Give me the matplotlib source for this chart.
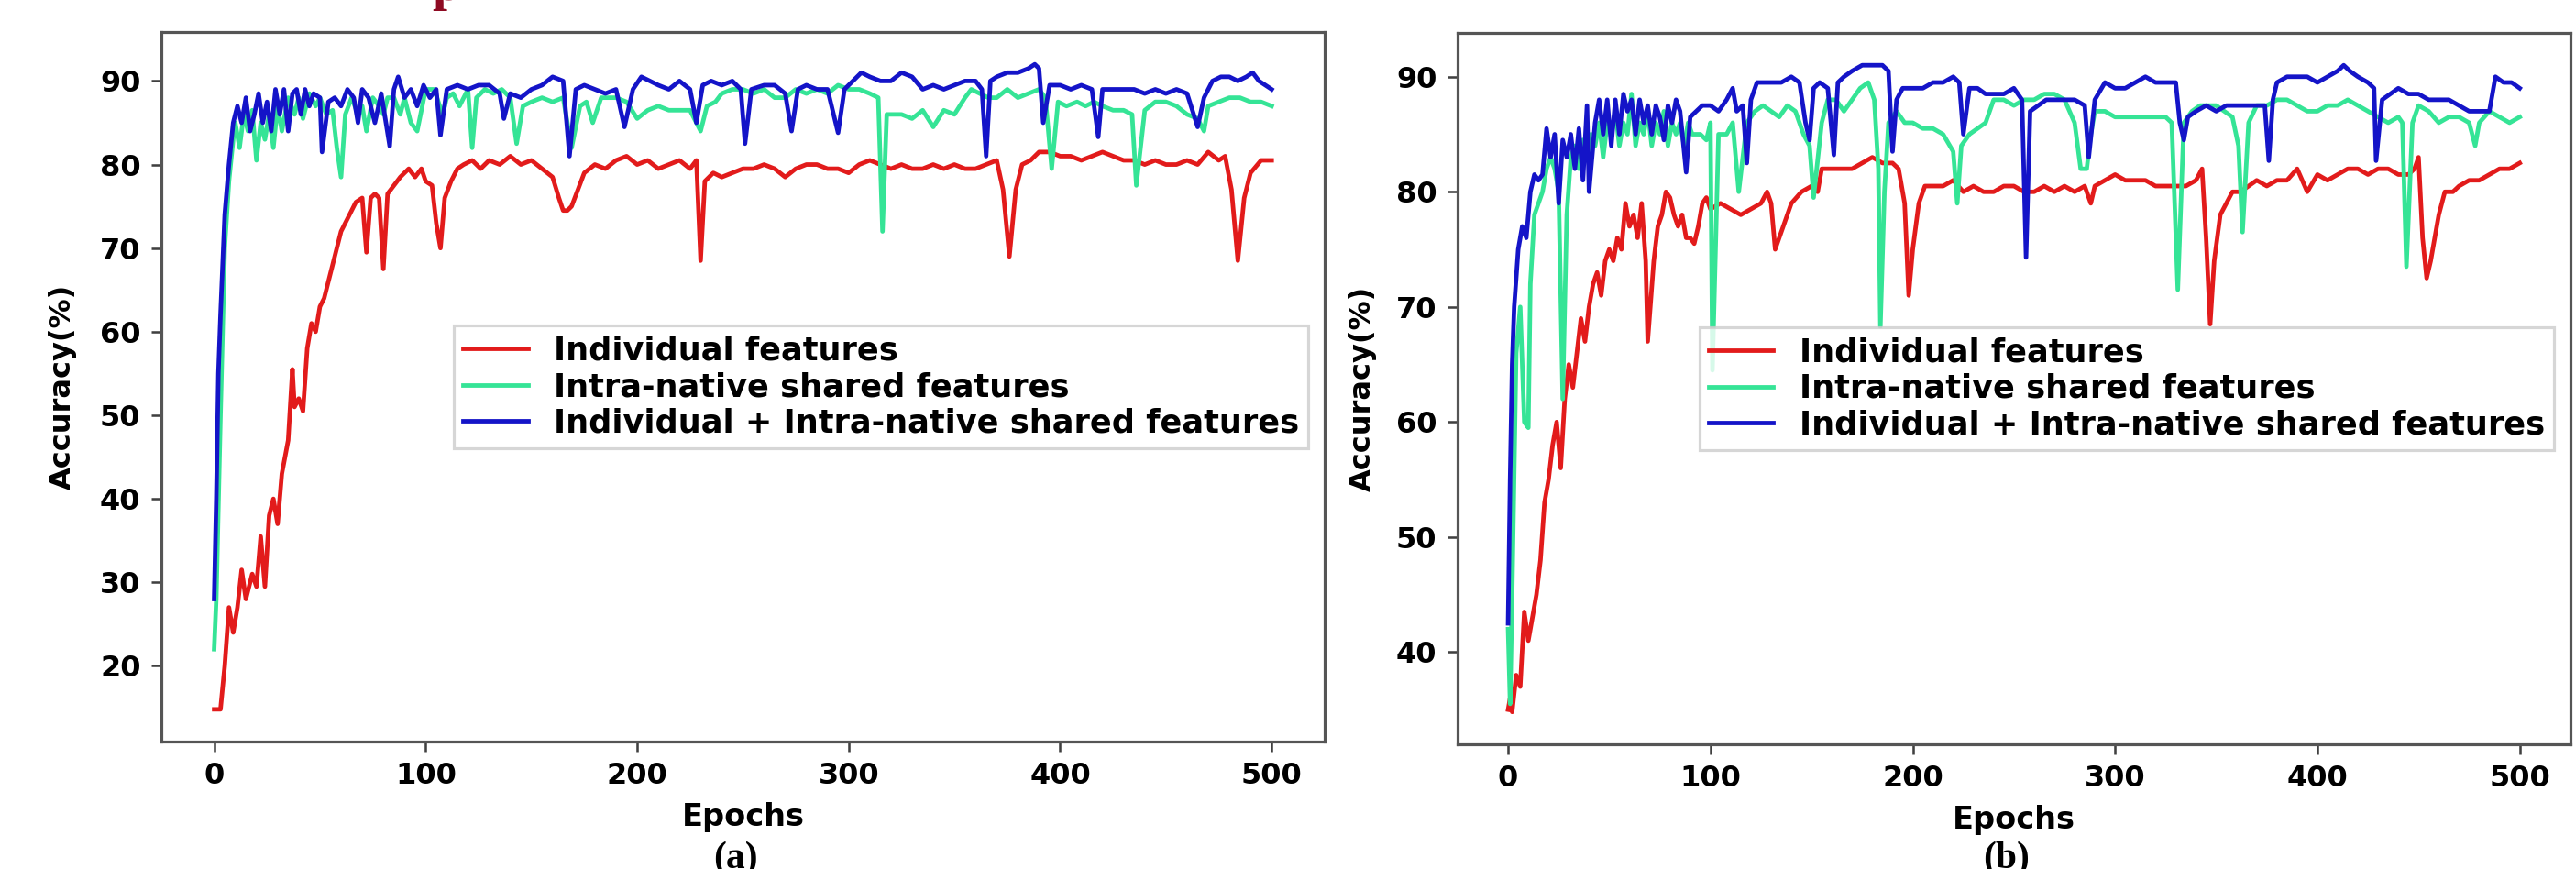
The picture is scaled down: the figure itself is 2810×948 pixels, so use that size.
import matplotlib.pyplot as plt

# (epoch, accuracy)
a_individual = [
    (0, 14.8), (3, 14.8), (5, 20), (7, 27), (9, 24), (11, 27), (13, 31.5), (15, 28), (18, 31), (20, 29.5),
    (22, 35.5), (24, 29.5), (26, 38), (28, 40), (30, 37), (32, 43), (35, 47), (37, 55.5), (38, 51), (40, 52),
    (42, 50.5), (44, 58), (46, 61), (48, 60), (50, 63), (52, 64), (54, 66), (56, 68), (58, 70), (60, 72),
    (62, 73), (65, 74.5), (67, 75.5), (70, 76), (72, 69.5), (74, 76), (76, 76.5), (78, 76), (80, 67.5), (82, 76.5),
    (85, 77.5), (88, 78.5), (90, 79), (92, 79.5), (95, 78.5), (98, 79.5), (100, 78), (103, 77.5), (105, 73), (107, 70),
    (109, 76), (112, 78), (115, 79.5), (118, 80), (122, 80.5), (126, 79.5), (130, 80.5), (135, 80), (140, 81), (145, 80),
    (150, 80.5), (155, 79.5), (160, 78.5), (163, 76), (165, 74.5), (167, 74.5), (169, 75), (172, 77), (175, 79), (180, 80),
    (185, 79.5), (190, 80.5), (195, 81), (200, 80), (205, 80.5), (210, 79.5), (215, 80), (220, 80.5), (225, 79.5), (228, 80.5),
    (230, 68.5), (232, 78), (236, 79), (240, 78.5), (245, 79), (250, 79.5), (255, 79.5), (260, 80), (265, 79.5), (270, 78.5),
    (275, 79.5), (280, 80), (285, 80), (290, 79.5), (295, 79.5), (300, 79), (305, 80), (310, 80.5), (315, 80), (320, 79.5),
    (325, 80), (330, 79.5), (335, 79.5), (340, 80), (345, 79.5), (350, 80), (355, 79.5), (360, 79.5), (365, 80), (370, 80.5),
    (373, 77), (376, 69), (379, 77), (382, 80), (386, 80.5), (390, 81.5), (395, 81.5), (400, 81), (405, 81), (410, 80.5),
    (415, 81), (420, 81.5), (425, 81), (430, 80.5), (435, 80.5), (440, 80), (445, 80.5), (450, 80), (455, 80), (460, 80.5),
    (465, 80), (470, 81.5), (475, 80.5), (478, 81), (481, 77), (484, 68.5), (487, 76), (490, 79), (495, 80.5), (500, 80.5),
]
a_shared = [
    (0, 22), (1, 28), (3, 50), (5, 70), (7, 78), (9, 83), (10, 85), (12, 82), (14, 86), (16, 84),
    (18, 86.5), (20, 80.5), (22, 85), (24, 83), (26, 86), (28, 82), (30, 87), (32, 84), (35, 88), (38, 86),
    (40, 88), (42, 85.5), (45, 88.5), (48, 87), (50, 88), (53, 86), (56, 86.5), (58, 82), (60, 78.5), (62, 86),
    (65, 88), (68, 86), (70, 87), (72, 84), (75, 88), (78, 87), (80, 86), (82, 88), (85, 88), (88, 86),
    (90, 88), (93, 85), (96, 84), (100, 89), (104, 89), (108, 86), (110, 88), (113, 88.5), (116, 87), (120, 89),
    (122, 82), (124, 88), (128, 89), (132, 88.5), (136, 89), (140, 88), (143, 82.5), (146, 87), (150, 87.5), (155, 88),
    (160, 87.5), (165, 88), (169, 82), (173, 87), (176, 87.5), (179, 85), (183, 88), (190, 88), (195, 87.5), (200, 85.5),
    (205, 86.5), (210, 87), (215, 86.5), (220, 86.5), (225, 86.5), (230, 84), (233, 87), (237, 87.5), (240, 88.5), (245, 89),
    (250, 89), (255, 88.5), (260, 89), (265, 88), (270, 88), (275, 89), (280, 88.5), (285, 89), (290, 88.5), (295, 89.5),
    (300, 89), (305, 89), (310, 88.5), (314, 88), (316, 72), (318, 86), (320, 86), (325, 86), (330, 85.5), (335, 86.5),
    (340, 84.5), (345, 86.5), (350, 86), (355, 88), (358, 89), (362, 88.5), (366, 88), (370, 88), (375, 89), (380, 88),
    (385, 88.5), (390, 89), (393, 88), (396, 79.5), (399, 87.5), (403, 87), (408, 87.5), (412, 87), (416, 87.5), (420, 87),
    (425, 86.5), (430, 86.5), (434, 86), (436, 77.5), (440, 86.5), (445, 87.5), (450, 87.5), (455, 87), (460, 86), (465, 85.5),
    (468, 84), (470, 87), (475, 87.5), (480, 88), (485, 88), (490, 87.5), (495, 87.5), (500, 87),
]
a_combined = [
    (0, 28), (1, 40), (2, 55), (3, 62), (5, 74), (7, 80), (9, 85), (11, 87), (13, 85), (15, 88),
    (17, 84), (19, 86), (21, 88.5), (23, 85), (25, 87.5), (27, 84), (29, 89), (31, 86), (33, 89), (35, 84),
    (37, 88.5), (39, 89), (41, 86), (43, 89), (45, 87), (47, 88.5), (50, 88), (51, 81.5), (54, 87.5), (57, 88),
    (60, 87), (63, 89), (66, 88), (68, 85), (70, 89), (73, 88), (76, 85), (79, 88.5), (83, 82.2), (85, 89),
    (87, 90.5), (90, 88), (93, 89), (96, 87), (99, 89.5), (102, 88), (105, 89), (107, 83.5), (110, 89), (115, 89.5),
    (120, 89), (125, 89.5), (130, 89.5), (135, 88.5), (137, 85.5), (140, 88.5), (145, 88), (150, 89), (155, 89.5), (160, 90.5),
    (165, 90), (168, 81), (171, 89), (175, 89.5), (180, 89), (185, 88.5), (190, 89), (194, 84.5), (198, 89), (202, 90.5),
    (206, 90), (210, 89.5), (215, 89), (220, 90), (225, 89), (228, 85), (231, 89.5), (235, 90), (240, 89.5), (245, 90),
    (249, 89), (251, 82.5), (254, 89), (260, 89.5), (265, 89.5), (270, 88.5), (273, 84), (276, 89), (280, 89.5), (285, 89),
    (290, 89), (295, 83.8), (298, 89), (302, 90), (306, 91), (310, 90.5), (315, 90), (320, 90), (325, 91), (330, 90.5),
    (335, 89), (340, 89.5), (345, 89), (350, 89.5), (355, 90), (360, 90), (363, 89), (365, 81), (367, 90), (370, 90.5),
    (375, 91), (380, 91), (385, 91.5), (388, 92), (390, 91.5), (392, 85), (395, 89.5), (400, 89.5), (405, 89), (410, 89.5),
    (415, 89), (418, 83.3), (420, 89), (425, 89), (430, 89), (435, 89), (440, 88.5), (445, 89), (450, 88.5), (455, 89),
    (460, 88.5), (465, 84.5), (468, 88), (472, 90), (476, 90.5), (480, 90.5), (484, 90), (488, 90.5), (491, 91), (494, 90),
    (497, 89.5), (500, 89),
]

b_individual = [
    (0, 35), (1, 36), (2, 34.8), (4, 38), (6, 37), (8, 43.5), (10, 41), (12, 43), (14, 45), (16, 48),
    (18, 53), (20, 55), (22, 58), (24, 60), (26, 56), (28, 62), (30, 65), (32, 63), (34, 66), (36, 69),
    (38, 67), (40, 70), (42, 72), (44, 73), (46, 71), (48, 74), (50, 75), (52, 74), (54, 76), (56, 75),
    (58, 79), (60, 77), (62, 78), (64, 76), (66, 79), (68, 74), (69, 67), (72, 74), (74, 77), (76, 78),
    (78, 80), (80, 79.5), (82, 78), (84, 77), (86, 78), (88, 76), (90, 76), (92, 75.5), (94, 77), (96, 79),
    (98, 79.5), (100, 78.5), (105, 79), (110, 78.5), (115, 78), (120, 78.5), (125, 79), (128, 80), (130, 79), (132, 75),
    (136, 77), (140, 79), (145, 80), (150, 80.5), (153, 80), (155, 82), (160, 82), (165, 82), (170, 82), (175, 82.5),
    (180, 83), (185, 82.5), (190, 82.5), (193, 82), (196, 79), (198, 71), (200, 75), (203, 79), (206, 80.5), (210, 80.5),
    (215, 80.5), (220, 81), (225, 80), (230, 80.5), (235, 80), (240, 80), (245, 80.5), (250, 80.5), (255, 80), (260, 80),
    (265, 80.5), (270, 80), (275, 80.5), (280, 80), (285, 80.5), (288, 79), (290, 80.5), (295, 81), (300, 81.5), (305, 81),
    (310, 81), (315, 81), (320, 80.5), (325, 80.5), (330, 80.5), (335, 80.5), (340, 81), (343, 82), (345, 76), (347, 68.5),
    (349, 74), (352, 78), (355, 79), (358, 80), (362, 80), (366, 80.5), (370, 81), (375, 80.5), (380, 81), (385, 81),
    (390, 82), (395, 80), (400, 81.5), (405, 81), (410, 81.5), (415, 82), (420, 82), (425, 81.5), (430, 82), (435, 82),
    (440, 81.5), (445, 81.5), (448, 82), (450, 83), (452, 76), (454, 72.5), (456, 74), (458, 76), (460, 78), (463, 80),
    (467, 80), (470, 80.5), (475, 81), (480, 81), (485, 81.5), (490, 82), (495, 82), (500, 82.5),
]
b_shared = [
    (0, 42), (1, 35.5), (2, 45), (4, 66), (6, 70), (8, 60), (10, 59.5), (11, 72), (13, 78), (15, 79),
    (17, 80), (19, 82), (21, 83), (23, 82), (25, 80), (27, 62), (29, 78), (31, 83), (33, 84), (35, 82),
    (37, 84.5), (39, 83), (41, 85), (43, 84), (45, 86), (47, 83), (49, 86), (51, 85), (53, 87), (55, 84),
    (57, 86), (59, 85), (61, 88.5), (63, 84), (65, 86), (67, 85), (69, 87), (71, 84), (73, 86), (75, 85),
    (77, 87), (79, 84), (81, 86), (83, 85), (85, 86), (87, 84), (89, 86), (91, 85), (95, 85), (98, 84.5),
    (100, 86), (101, 64.5), (104, 85), (108, 85), (111, 86), (114, 80), (118, 86), (122, 87), (126, 87.5), (130, 87),
    (134, 86.5), (138, 87.5), (142, 87), (146, 85), (149, 84), (151, 79.5), (155, 86), (158, 88), (162, 88), (166, 87),
    (170, 88), (174, 89), (178, 89.5), (181, 88), (183, 82), (184, 68.3), (186, 80), (188, 86), (192, 87), (196, 86),
    (200, 86), (205, 85.5), (210, 85.5), (215, 85), (220, 83.5), (222, 79), (224, 84), (228, 85), (232, 85.5), (236, 86),
    (240, 88), (245, 88), (250, 87.5), (255, 88), (260, 88), (265, 88.5), (270, 88.5), (275, 88), (280, 86), (283, 82),
    (286, 82), (288, 85), (290, 87), (295, 87), (300, 86.5), (305, 86.5), (310, 86.5), (315, 86.5), (320, 86.5), (325, 86.5),
    (328, 86), (331, 71.5), (334, 86), (338, 87), (342, 87.5), (346, 87.5), (350, 87.5), (354, 87), (358, 86.5), (361, 84),
    (363, 76.5), (366, 86), (370, 87.5), (375, 87.5), (380, 88), (385, 88), (390, 87.5), (395, 87), (400, 87), (405, 87.5),
    (410, 87.5), (415, 88), (420, 87.5), (425, 87), (430, 86.5), (435, 86), (440, 86.5), (442, 86), (444, 73.5), (447, 86),
    (450, 87.5), (455, 87), (460, 86), (465, 86.5), (470, 86.5), (475, 86), (478, 84), (480, 86), (485, 87), (490, 86.5),
    (495, 86), (500, 86.5),
]
b_combined = [
    (0, 42.5), (1, 55), (2, 65), (3, 70), (5, 75), (7, 77), (9, 76), (11, 80), (13, 81.5), (15, 81),
    (17, 81.5), (19, 85.5), (21, 83), (23, 85), (25, 79), (27, 84.5), (29, 83), (31, 85), (33, 82), (35, 85.5),
    (37, 81), (39, 87.5), (40, 80), (43, 86), (45, 88), (47, 85), (49, 88), (51, 84), (53, 88), (55, 85),
    (57, 88.5), (59, 87), (61, 88), (63, 85), (65, 88), (67, 86), (69, 87.5), (71, 85), (73, 87.5), (75, 86.5),
    (77, 84.5), (79, 87.5), (81, 86), (83, 88), (85, 87), (88, 81.7), (90, 86.5), (93, 87), (96, 87.5), (100, 87.5),
    (104, 87), (108, 88), (111, 89), (113, 87), (116, 87.5), (118, 82.5), (120, 88), (123, 89.5), (126, 89.5), (130, 89.5),
    (135, 89.5), (140, 90), (144, 89.5), (147, 86), (149, 84.5), (151, 89), (154, 89.5), (158, 89), (161, 83.2), (163, 89.5),
    (166, 90), (170, 90.5), (175, 91), (180, 91), (185, 91), (188, 90.5), (190, 83.5), (192, 88), (195, 89), (200, 89),
    (205, 89), (210, 89.5), (215, 89.5), (220, 90), (223, 89.5), (225, 85), (228, 89), (232, 89), (236, 88.5), (240, 88.5),
    (245, 88.5), (250, 89), (254, 88), (256, 74.3), (258, 87), (262, 87.5), (266, 88), (270, 88), (275, 88), (280, 88),
    (285, 87.5), (287, 83), (290, 88), (295, 89.5), (300, 89), (305, 89), (310, 89.5), (315, 90), (320, 89.5), (325, 89.5),
    (330, 89.5), (332, 86), (334, 84.5), (336, 86.5), (340, 87), (345, 87.5), (350, 87), (355, 87.5), (360, 87.5), (365, 87.5),
    (370, 87.5), (374, 87.5), (376, 82.7), (378, 88), (380, 89.5), (385, 90), (390, 90), (395, 90), (400, 89.5), (405, 90),
    (410, 90.5), (413, 91), (416, 90.5), (420, 90), (425, 89.5), (428, 89), (429, 82.7), (432, 88), (436, 88.5), (440, 89),
    (445, 88.5), (450, 88.5), (455, 88), (460, 88), (465, 88), (470, 87.5), (475, 87), (480, 87), (485, 87), (488, 90),
    (492, 89.5), (496, 89.5), (500, 89),
]

labels = ['Individual features', 'Intra-native shared features',
          'Individual + Intra-native shared features']
colors = ['#e21b1b', '#35e496', '#1414c8']
panels = [('(a)', [a_individual, a_shared, a_combined]),
          ('(b)', [b_individual, b_shared, b_combined])]

plt.rcParams['font.family'] = 'DejaVu Sans'
plt.rcParams['font.weight'] = 'bold'
plt.rcParams['axes.labelweight'] = 'bold'

fig = plt.figure(figsize=(2810 / 230, 948 / 230), dpi=230)
rects = [[0.0626, 0.1466, 0.4516, 0.8165], [0.5658, 0.1435, 0.4320, 0.8186]]
ypads = [8, 6.5]

for rect, ypad, (tag, series) in zip(rects, ypads, panels):
    ax = fig.add_axes(rect)
    for data, lab, col in zip(series, labels, colors):
        ep = [p[0] for p in data]
        acc = [p[1] for p in data]
        ax.plot(ep, acc, color=col, lw=1.5, label=lab)
    ax.set_xlabel('Epochs', fontsize=10.5)
    ax.set_ylabel('Accuracy(%)', fontsize=10, labelpad=ypad)
    ax.tick_params(labelsize=10, color='#404040')
    for s in ax.spines.values():
        s.set_color('#555555')
        s.set_linewidth(1.0)
    ax.legend(loc='center right', prop={'weight': 'bold', 'size': 11},
              labelspacing=0.15, borderpad=0.3, fancybox=False)
    cx = rect[0] + rect[2] / 2
    fig.text(cx - 0.003, 0.012, tag, ha='center', va='center', fontsize=13,
             family='Liberation Serif', weight='bold')

# cropped red heading at the very top of the page: only a descender shows
fig.text(487 / 2810, 1.0, 'p', ha='center', va='baseline', fontsize=18,
         family='Liberation Serif', weight='bold', color='#8e0a22')

fig.savefig('out.png', dpi=230)
